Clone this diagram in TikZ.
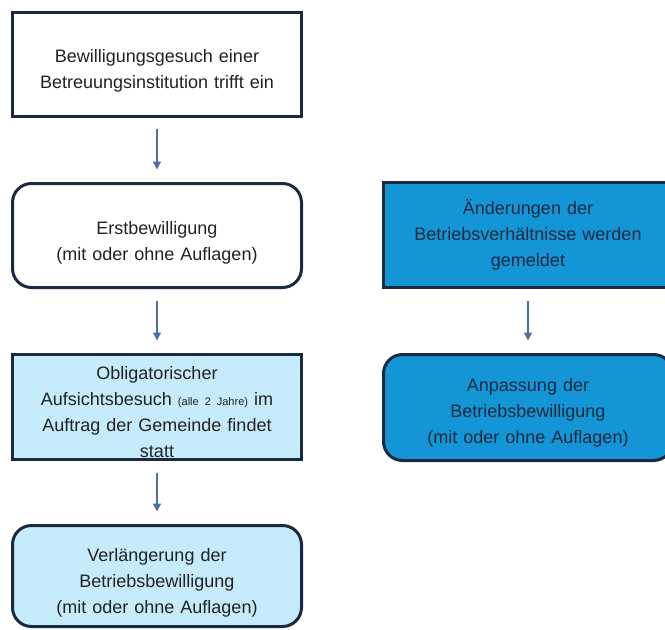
\documentclass[tikz,border=0pt]{standalone}
\usepackage{fontspec}
\setmainfont{Liberation Sans}
\usetikzlibrary{arrows.meta}
\definecolor{navy}{HTML}{1B2A41}
\definecolor{lightblue}{HTML}{C6EBFB}
\definecolor{midblue}{HTML}{1395D6}
\definecolor{arrowblue}{HTML}{4D6FA3}
\definecolor{txt}{HTML}{222222}
\tikzset{
  box/.style={draw=navy, line width=3pt, minimum width=289pt, text width=270pt,
    align=center, inner sep=0pt, text=txt,
    font=\fontsize{18}{26}\selectfont},
  rbox/.style={box, rounded corners=19pt},
  down/.style={execute at begin node={\rule{0pt}{#1}}},
  arr/.style={draw=arrowblue, line width=1.3pt, -{Triangle[width=8pt,length=8pt]},
    shorten <=11.5pt, shorten >=12.5pt}
}
\begin{document}
\begin{tikzpicture}[x=1pt,y=-1pt]
\useasboundingbox (0,0) rectangle (665,630);
\clip (0,0) rectangle (665,630);
\node[box, fill=white, minimum height=104pt] (n1) at (157,64)
  {\rule{0pt}{27pt}Bewilligungsgesuch einer\\Betreuungsinstitution trifft ein};
\node[rbox, fill=white, minimum height=104pt] (n2) at (157,235.5)
  {\rule{0pt}{27pt}Erstbewilligung\\(mit oder ohne Auflagen)};
\node[box, fill=lightblue, minimum height=105pt] (n3) at (157,407)
  {\rule{0pt}{24pt}Obligatorischer\\Aufsichtsbesuch {\fontsize{11}{26}\selectfont(alle 2 Jahre)} im\\Auftrag der Gemeinde findet\\statt};
\node[rbox, fill=lightblue, minimum height=101pt] (n4) at (157,576)
  {\rule{0pt}{27pt}Verlängerung der\\Betriebsbewilligung\\(mit oder ohne Auflagen)};
\node[box, fill=midblue, text=navy, minimum height=105pt] (n5) at (528,235)
  {Änderungen der\\Betriebsverhältnisse werden\\gemeldet};
\node[rbox, fill=midblue, text=navy, minimum height=106pt] (n6) at (528,407.5)
  {\rule{0pt}{23pt}Anpassung der\\Betriebsbewilligung\\(mit oder ohne Auflagen)};
\draw[arr] (n1.south) -- (n2.north);
\draw[arr] (n2.south) -- (n3.north);
\draw[arr] (n3.south) -- (n4.north);
\draw[arr] (n5.south) -- (n6.north);
\end{tikzpicture}
\end{document}
